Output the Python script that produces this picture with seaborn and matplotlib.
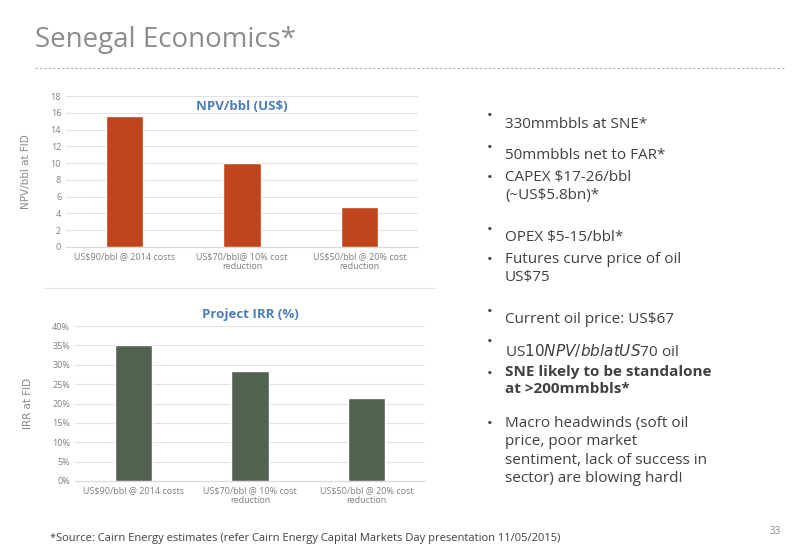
import matplotlib.pyplot as plt
import seaborn as sns
import pandas as pd

# Chart data
categories_npv = ["US$90/bbl @ 2014 costs", "US$70/bbl@ 10% cost\nreduction", "US$50/bbl @ 20% cost\nreduction"]
npv_values = [15.6, 10.0, 4.8]
categories_irr = ["US$90/bbl @ 2014 costs", "US$70/bbl @ 10% cost\nreduction", "US$50/bbl @ 20% cost\nreduction"]
irr_values = [35.0, 28.5, 21.5]
npv_ticks = list(range(0, 19, 2))
irr_ticks = list(range(0, 41, 5))

bullets = [
    ("330mmbbls at SNE*", False),
    ("50mmbbls net to FAR*", False),
    ("CAPEX $17-26/bbl\n(~US$5.8bn)*", False),
    ("OPEX $5-15/bbl*", False),
    ("Futures curve price of oil\nUS$75", False),
    ("Current oil price: US$67", False),
    ("US$10 NPV/bbl at US$70 oil", False),
    ("SNE likely to be standalone\nat >200mmbbls*", True),
    ("Macro headwinds (soft oil\nprice, poor market\nsentiment, lack of success in\nsector) are blowing hard!", False),
]

sns.set_style("white")
plt.rcParams['font.family'] = ['Open Sans', 'DejaVu Sans']

W, H = 800, 554
fig = plt.figure(figsize=(8, 5.54), dpi=100)

def box(x0, y0, x1, y1):
    return [x0 / W, 1 - y1 / H, (x1 - x0) / W, (y1 - y0) / H]

grey = "#888888"
tick_col = "#7f7f7f"

def draw(ax, cats, vals, color, ticks, ylabel, title, pct):
    df = pd.DataFrame({"cat": cats, "val": vals})
    sns.barplot(data=df, x="cat", y="val", color=color, width=0.32, ax=ax, saturation=1)
    ax.set_ylim(0, ticks[-1])
    ax.set_yticks(ticks)
    if pct:
        ax.set_yticklabels([f"{t}%" for t in ticks])
    ax.grid(axis="y", color="#e3e3e3", lw=0.8)
    ax.set_axisbelow(True)
    for s in ["top", "right", "left"]:
        ax.spines[s].set_visible(False)
    ax.spines["bottom"].set_color("#d9d9d9")
    ax.tick_params(axis="both", length=0, labelsize=6.5, colors=tick_col)
    ax.set_xlabel("")
    ax.set_ylabel(ylabel, fontsize=7.5, color=grey, family=["DejaVu Sans"])
    ax.set_title(title, fontsize=9.5, color="#4a7ebb", fontweight="bold")

ax1 = fig.add_axes(box(66, 96, 418, 247))
draw(ax1, categories_npv, npv_values, "#c0441c", npv_ticks, "NPV/bbl at FID", "", False)
ax1.text(0.5, 0.93, "NPV/bbl (US$)", transform=ax1.transAxes, ha="center", va="center",
         fontsize=9.5, color="#4a7ebb", fontweight="bold")
ax1.yaxis.set_label_coords(-0.1, 0.5)

ax2 = fig.add_axes(box(75, 326, 425, 481))
draw(ax2, categories_irr, irr_values, "#526150", irr_ticks, "IRR at FID", "Project IRR (%)", True)
ax2.title.set_position((0.5, 1.08))
ax2.yaxis.set_label_coords(-0.12, 0.5)

# slide furniture
fig.text(35 / W, 1 - 40 / H, "Senegal Economics*", fontsize=20, color="#8c8c8c", va="center")
fig.add_artist(plt.Line2D([35 / W, 785 / W], [1 - 68 / H] * 2, color="#aaaaaa", lw=0.8, ls=(0, (2, 2))))
fig.add_artist(plt.Line2D([44 / W, 435 / W], [1 - 288 / H] * 2, color="#e6e6e6", lw=0.8))

y = 117
for txt, bold in bullets:
    fig.text(487 / W, 1 - y / H, "•", fontsize=11, color="#404040", va="center")
    fig.text(505 / W, 1 - y / H, txt, fontsize=11, color="#404040", va="top",
             fontweight="bold" if bold else "normal", linespacing=1.3, transform=fig.transFigure,
             verticalalignment="center" if "\n" not in txt else "top")
    n = txt.count("\n")
    if n:
        fig.texts[-1].set_y(1 - (y - 9) / H)
    y += 31 + n * 20

fig.text(50 / W, 1 - 538 / H, "*Source: Cairn Energy estimates (refer Cairn Energy Capital Markets Day presentation 11/05/2015)",
         fontsize=8, color="#404040", va="center")
fig.text(770 / W, 1 - 532 / H, "33", fontsize=7, color=grey, va="center")

fig.savefig("out.png", dpi=100)
